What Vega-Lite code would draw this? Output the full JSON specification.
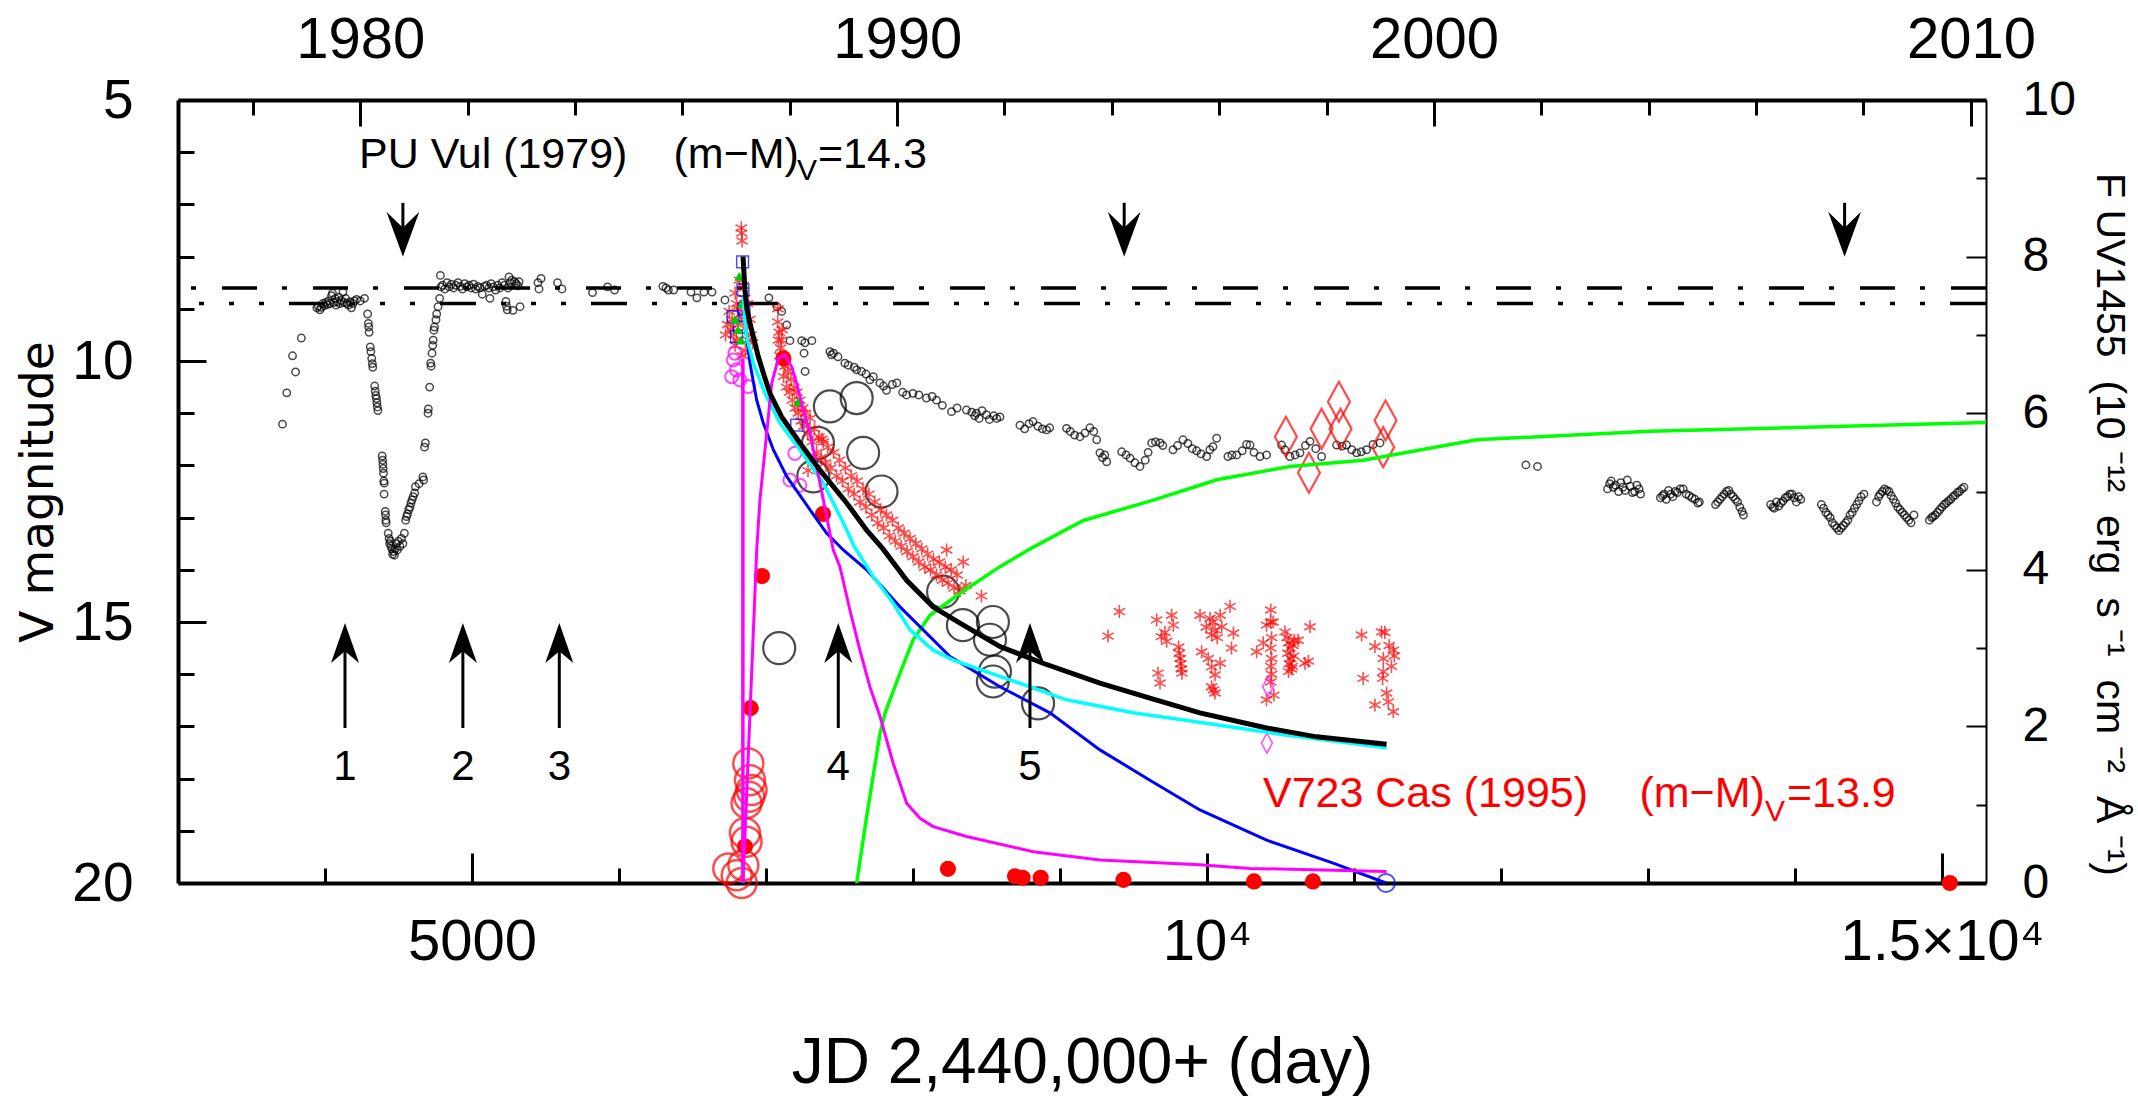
{
"$schema": "https://vega.github.io/schema/vega-lite/v6.json",
"width": 1808, "height": 783,
"autosize": "none",
"padding": {"left": 178, "top": 100, "right": 152, "bottom": 217},
"background": "white",
"config": {"view": {"stroke": null}, "axis": {"grid": false, "domainColor": "black", "tickColor": "black", "labelColor": "black", "titleColor": "black", "labelFont": "Liberation Sans", "titleFont": "Liberation Sans", "titleFontWeight": "normal", "labelFlush": false, "labelOverlap": false, "labelLimit": 0}},
"datasets": {
"puvul": [
{"jd":3711,"v":11.21},{"jd":3740,"v":10.61},{"jd":3779,"v":9.9},{"jd":3800,"v":10.21},{"jd":3839,"v":9.56},
{"jd":3945,"v":8.98},{"jd":3955,"v":8.95},{"jd":3965,"v":9.02},{"jd":3975,"v":8.97},{"jd":3985,"v":8.9},{"jd":3995,"v":8.94},{"jd":4005,"v":8.88},{"jd":4015,"v":8.92},{"jd":4025,"v":8.85},{"jd":4035,"v":8.9},{"jd":4045,"v":8.75},{"jd":4051,"v":8.7},{"jd":4060,"v":8.88},{"jd":4070,"v":8.8},{"jd":4075,"v":8.93},{"jd":4085,"v":8.86},{"jd":4095,"v":8.78},{"jd":4100,"v":8.9},{"jd":4110,"v":8.84},{"jd":4122,"v":8.68},{"jd":4130,"v":8.88},{"jd":4140,"v":8.8},{"jd":4150,"v":8.9},{"jd":4160,"v":8.93},{"jd":4170,"v":8.87},{"jd":4180,"v":8.98},{"jd":4190,"v":8.9},{"jd":4200,"v":8.85},{"jd":4215,"v":8.82},{"jd":4240,"v":8.85},{"jd":4269,"v":8.8},
{"jd":4290,"v":9.1},{"jd":4295,"v":9.28},{"jd":4298,"v":9.35},{"jd":4300,"v":9.45},{"jd":4308,"v":9.73},{"jd":4312,"v":9.82},{"jd":4318,"v":9.95},{"jd":4322,"v":10.05},{"jd":4325,"v":10.12},{"jd":4338,"v":10.48},{"jd":4342,"v":10.58},{"jd":4346,"v":10.66},{"jd":4350,"v":10.72},{"jd":4353,"v":10.8},{"jd":4356,"v":10.88},{"jd":4360,"v":10.95},{"jd":4389,"v":11.82},{"jd":4392,"v":11.9},{"jd":4394,"v":11.98},{"jd":4396,"v":12.06},{"jd":4398,"v":12.15},{"jd":4400,"v":12.3},{"jd":4403,"v":12.34},{"jd":4402,"v":12.55},{"jd":4410,"v":12.88},{"jd":4412,"v":12.95},{"jd":4414,"v":13.05},{"jd":4416,"v":13.1},
{"jd":4430,"v":13.3},{"jd":4436,"v":13.4},{"jd":4440,"v":13.5},{"jd":4445,"v":13.45},{"jd":4450,"v":13.55},{"jd":4455,"v":13.6},{"jd":4460,"v":13.7},{"jd":4466,"v":13.65},{"jd":4472,"v":13.72},{"jd":4478,"v":13.6},{"jd":4485,"v":13.5},{"jd":4492,"v":13.62},{"jd":4500,"v":13.45},{"jd":4510,"v":13.55},{"jd":4520,"v":13.4},{"jd":4530,"v":13.5},{"jd":4540,"v":13.3},
{"jd":4549,"v":13.05},{"jd":4555,"v":12.98},{"jd":4561,"v":12.93},{"jd":4570,"v":12.85},{"jd":4578,"v":12.8},{"jd":4585,"v":12.72},{"jd":4592,"v":12.66},{"jd":4600,"v":12.6},{"jd":4610,"v":12.53},{"jd":4615,"v":12.41},{"jd":4640,"v":12.35},{"jd":4666,"v":12.22},{"jd":4671,"v":12.28},{"jd":4677,"v":11.65},{"jd":4683,"v":11.57},{"jd":4701,"v":11.0},{"jd":4703,"v":10.92},{"jd":4712,"v":10.5},{"jd":4719,"v":10.04},{"jd":4722,"v":10.1},{"jd":4728,"v":9.85},{"jd":4733,"v":9.7},{"jd":4736,"v":9.6},{"jd":4741,"v":9.41},{"jd":4745,"v":9.35},{"jd":4755,"v":9.21},{"jd":4760,"v":9.1},{"jd":4769,"v":8.96},{"jd":4780,"v":8.8},{"jd":4785,"v":8.36},{"jd":4789,"v":8.58},
{"jd":4800,"v":8.55},{"jd":4815,"v":8.62},{"jd":4830,"v":8.5},{"jd":4845,"v":8.58},{"jd":4860,"v":8.53},{"jd":4875,"v":8.6},{"jd":4890,"v":8.55},{"jd":4905,"v":8.5},{"jd":4920,"v":8.57},{"jd":4935,"v":8.62},{"jd":4950,"v":8.52},{"jd":4965,"v":8.58},{"jd":4980,"v":8.55},{"jd":4995,"v":8.6},{"jd":5010,"v":8.53},{"jd":5025,"v":8.62},{"jd":5040,"v":8.57},{"jd":5055,"v":8.6},{"jd":5070,"v":8.72},{"jd":5085,"v":8.57},{"jd":5100,"v":8.55},{"jd":5115,"v":8.6},{"jd":5122,"v":8.8},{"jd":5130,"v":8.52},{"jd":5145,"v":8.58},{"jd":5160,"v":8.64},{"jd":5175,"v":8.55},{"jd":5190,"v":8.6},{"jd":5205,"v":8.5},{"jd":5220,"v":8.55},{"jd":5231,"v":8.86},{"jd":5235,"v":8.95},{"jd":5240,"v":9.02},{"jd":5245,"v":8.6},{"jd":5252,"v":8.39},{"jd":5260,"v":8.5},{"jd":5270,"v":8.45},{"jd":5279,"v":9.03},{"jd":5290,"v":8.48},{"jd":5300,"v":8.52},{"jd":5313,"v":8.56},{"jd":5320,"v":8.48},{"jd":5327,"v":8.96},
{"jd":5449,"v":8.5},{"jd":5456,"v":8.62},{"jd":5470,"v":8.42},{"jd":5582,"v":8.5},{"jd":5612,"v":8.62},{"jd":5820,"v":8.69},{"jd":5922,"v":8.58},{"jd":5970,"v":8.64},{"jd":6299,"v":8.57},{"jd":6320,"v":8.6},{"jd":6336,"v":8.64},{"jd":6372,"v":8.64},{"jd":6490,"v":8.68},{"jd":6530,"v":8.79},{"jd":6578,"v":8.68},{"jd":6633,"v":8.68},{"jd":6721,"v":8.83},
{"jd":7020,"v":8.79},{"jd":7075,"v":8.96},{"jd":7107,"v":9.05},{"jd":7141,"v":9.31},{"jd":7163,"v":9.61},{"jd":7243,"v":9.61},{"jd":7265,"v":9.65},{"jd":7312,"v":9.61},{"jd":7259,"v":9.85},{"jd":7266,"v":10.2},
{"jd":7435,"v":9.82},{"jd":7446,"v":9.88},{"jd":7460,"v":9.85},{"jd":7490,"v":9.92},{"jd":7537,"v":10.04},{"jd":7560,"v":10.08},{"jd":7600,"v":10.12},{"jd":7617,"v":10.17},{"jd":7650,"v":10.2},{"jd":7680,"v":10.25},{"jd":7707,"v":10.36},{"jd":7730,"v":10.3},{"jd":7775,"v":10.42},{"jd":7800,"v":10.48},{"jd":7820,"v":10.56},{"jd":7860,"v":10.45},{"jd":7890,"v":10.42},{"jd":7930,"v":10.6},{"jd":7956,"v":10.65},{"jd":8000,"v":10.62},{"jd":8040,"v":10.65},{"jd":8092,"v":10.71},{"jd":8130,"v":10.68},{"jd":8160,"v":10.75},{"jd":8200,"v":10.85},{"jd":8262,"v":10.97},{"jd":8300,"v":10.9},{"jd":8364,"v":10.94},{"jd":8400,"v":10.98},{"jd":8420,"v":11.05},{"jd":8432,"v":11.0},{"jd":8450,"v":11.1},{"jd":8470,"v":10.95},{"jd":8500,"v":11.03},{"jd":8520,"v":11.12},{"jd":8550,"v":11.05},{"jd":8570,"v":11.1},{"jd":8592,"v":11.07},
{"jd":8728,"v":11.23},{"jd":8760,"v":11.3},{"jd":8790,"v":11.2},{"jd":8817,"v":11.16},{"jd":8850,"v":11.25},{"jd":8880,"v":11.3},{"jd":8909,"v":11.32},{"jd":8930,"v":11.28},
{"jd":9045,"v":11.29},{"jd":9070,"v":11.35},{"jd":9100,"v":11.42},{"jd":9136,"v":11.45},{"jd":9170,"v":11.38},{"jd":9204,"v":11.28},{"jd":9230,"v":11.35},{"jd":9250,"v":11.51},
{"jd":9272,"v":11.76},{"jd":9290,"v":11.85},{"jd":9305,"v":11.8},{"jd":9318,"v":11.93},
{"jd":9420,"v":11.74},{"jd":9450,"v":11.8},{"jd":9477,"v":11.86},{"jd":9510,"v":11.95},{"jd":9544,"v":12.02},{"jd":9580,"v":11.9},{"jd":9600,"v":11.75},{"jd":9624,"v":11.57},{"jd":9650,"v":11.55},{"jd":9681,"v":11.57},{"jd":9700,"v":11.62},
{"jd":9769,"v":11.7},{"jd":9800,"v":11.62},{"jd":9837,"v":11.51},{"jd":9870,"v":11.58},{"jd":9900,"v":11.68},{"jd":9930,"v":11.72},{"jd":9960,"v":11.78},{"jd":9998,"v":11.83},{"jd":10020,"v":11.7},{"jd":10041,"v":11.64},{"jd":10066,"v":11.48},
{"jd":10143,"v":11.83},{"jd":10170,"v":11.8},{"jd":10202,"v":11.8},{"jd":10240,"v":11.72},{"jd":10270,"v":11.6},{"jd":10293,"v":11.61},{"jd":10320,"v":11.75},{"jd":10361,"v":11.83},{"jd":10406,"v":11.8},
{"jd":10508,"v":11.61},{"jd":10530,"v":11.7},{"jd":10565,"v":11.83},{"jd":10600,"v":11.8},{"jd":10633,"v":11.76},{"jd":10670,"v":11.62},{"jd":10701,"v":11.54},{"jd":10740,"v":11.68},{"jd":10780,"v":11.83},
{"jd":10882,"v":11.61},{"jd":10920,"v":11.63},{"jd":10950,"v":11.61},{"jd":10985,"v":11.7},{"jd":11018,"v":11.76},{"jd":11050,"v":11.74},{"jd":11086,"v":11.7},{"jd":11130,"v":11.6},{"jd":11177,"v":11.57},
{"jd":12170,"v":11.99},{"jd":12249,"v":12.02},
{"jd":12725,"v":12.45},{"jd":12740,"v":12.35},{"jd":12750,"v":12.3},{"jd":12765,"v":12.42},{"jd":12780,"v":12.38},{"jd":12800,"v":12.5},{"jd":12815,"v":12.33},{"jd":12830,"v":12.42},{"jd":12845,"v":12.48},{"jd":12860,"v":12.28},{"jd":12880,"v":12.4},{"jd":12895,"v":12.52},{"jd":12910,"v":12.5},{"jd":12925,"v":12.38},{"jd":12940,"v":12.45},{"jd":12950,"v":12.55},
{"jd":13085,"v":12.62},{"jd":13100,"v":12.58},{"jd":13110,"v":12.55},{"jd":13125,"v":12.65},{"jd":13140,"v":12.48},{"jd":13155,"v":12.55},{"jd":13170,"v":12.6},{"jd":13185,"v":12.5},{"jd":13200,"v":12.52},{"jd":13220,"v":12.45},{"jd":13240,"v":12.45},{"jd":13260,"v":12.55},{"jd":13280,"v":12.58},{"jd":13300,"v":12.62},{"jd":13320,"v":12.65},{"jd":13340,"v":12.72},{"jd":13350,"v":12.7},
{"jd":13460,"v":12.75},{"jd":13475,"v":12.7},{"jd":13490,"v":12.65},{"jd":13505,"v":12.6},{"jd":13520,"v":12.55},{"jd":13535,"v":12.5},{"jd":13550,"v":12.48},{"jd":13565,"v":12.55},{"jd":13580,"v":12.6},{"jd":13595,"v":12.65},{"jd":13610,"v":12.7},{"jd":13625,"v":12.8},{"jd":13640,"v":12.88},{"jd":13650,"v":12.95},
{"jd":13835,"v":12.75},{"jd":13850,"v":12.8},{"jd":13860,"v":12.82},{"jd":13875,"v":12.7},{"jd":13890,"v":12.78},{"jd":13905,"v":12.72},{"jd":13920,"v":12.68},{"jd":13935,"v":12.62},{"jd":13950,"v":12.6},{"jd":13965,"v":12.55},{"jd":13980,"v":12.55},{"jd":13995,"v":12.62},{"jd":14010,"v":12.7},{"jd":14025,"v":12.6},{"jd":14040,"v":12.65},
{"jd":14180,"v":12.75},{"jd":14195,"v":12.82},{"jd":14210,"v":12.9},{"jd":14225,"v":12.95},{"jd":14240,"v":13.0},{"jd":14255,"v":13.1},{"jd":14270,"v":13.15},{"jd":14285,"v":13.2},{"jd":14300,"v":13.25},{"jd":14315,"v":13.2},{"jd":14330,"v":13.15},{"jd":14345,"v":13.1},{"jd":14360,"v":13.05},{"jd":14375,"v":12.95},{"jd":14390,"v":12.9},{"jd":14405,"v":12.82},{"jd":14420,"v":12.75},{"jd":14435,"v":12.68},{"jd":14450,"v":12.6},{"jd":14470,"v":12.55},
{"jd":14555,"v":12.7},{"jd":14570,"v":12.6},{"jd":14580,"v":12.55},{"jd":14595,"v":12.5},{"jd":14610,"v":12.45},{"jd":14625,"v":12.48},{"jd":14640,"v":12.5},{"jd":14655,"v":12.58},{"jd":14670,"v":12.65},{"jd":14685,"v":12.72},{"jd":14700,"v":12.8},{"jd":14715,"v":12.85},{"jd":14730,"v":12.9},{"jd":14745,"v":12.95},{"jd":14760,"v":13.0},{"jd":14775,"v":13.05},{"jd":14790,"v":13.1},{"jd":14810,"v":12.95},
{"jd":14915,"v":13.05},{"jd":14930,"v":13.0},{"jd":14940,"v":12.98},{"jd":14955,"v":12.95},{"jd":14970,"v":12.9},{"jd":14985,"v":12.85},{"jd":15000,"v":12.8},{"jd":15015,"v":12.75},{"jd":15030,"v":12.72},{"jd":15045,"v":12.68},{"jd":15060,"v":12.65},{"jd":15075,"v":12.6},{"jd":15090,"v":12.57},{"jd":15105,"v":12.52},{"jd":15120,"v":12.5},{"jd":15135,"v":12.45},{"jd":15150,"v":12.42}
],
"stars": [
{"jd":6835,"v":7.55},{"jd":6838,"v":7.7},{"jd":6832,"v":7.45},{"jd":6820,"v":8.45},{"jd":6845,"v":8.55},{"jd":6790,"v":8.7},{"jd":6800,"v":8.9},{"jd":6810,"v":9.0},{"jd":6770,"v":9.2},{"jd":6760,"v":9.4},{"jd":6780,"v":9.5},{"jd":6790,"v":9.7},{"jd":6810,"v":9.3},{"jd":6830,"v":9.1},{"jd":6850,"v":9.2},{"jd":6870,"v":9.35},{"jd":6880,"v":9.6},{"jd":6900,"v":9.5},{"jd":6860,"v":9.8},{"jd":6840,"v":9.9},{"jd":6750,"v":9.05},{"jd":6740,"v":9.3},{"jd":6725,"v":9.5},{"jd":6800,"v":9.6},{"jd":6890,"v":9.2},{"jd":6910,"v":9.65},{"jd":6875,"v":8.9},{"jd":6855,"v":8.8},
{"jd":7082,"v":9.0},{"jd":7080,"v":9.25},{"jd":7090,"v":9.45},{"jd":7085,"v":9.6},{"jd":7100,"v":9.75},{"jd":7095,"v":9.9},{"jd":7110,"v":9.4},{"jd":7105,"v":9.6},
{"jd":7110,"v":10.0},{"jd":7120,"v":10.3},{"jd":7130,"v":10.1},{"jd":7140,"v":10.5},{"jd":7150,"v":10.2},{"jd":7160,"v":10.6},{"jd":7170,"v":10.35},{"jd":7180,"v":10.75},{"jd":7190,"v":10.5},{"jd":7200,"v":10.9},{"jd":7210,"v":10.6},{"jd":7220,"v":11.0},{"jd":7230,"v":10.75},{"jd":7240,"v":11.15},{"jd":7250,"v":10.9},{"jd":7260,"v":11.25},{"jd":7270,"v":11.0},{"jd":7285,"v":11.4},{"jd":7300,"v":11.1},{"jd":7315,"v":11.55},{"jd":7330,"v":11.3},{"jd":7345,"v":11.75},{"jd":7360,"v":11.45},{"jd":7375,"v":11.85},{"jd":7390,"v":11.55},{"jd":7405,"v":11.95},{"jd":7420,"v":11.65},{"jd":7440,"v":12.05},{"jd":7460,"v":11.75},{"jd":7480,"v":12.2},{"jd":7500,"v":11.9},{"jd":7520,"v":12.3},{"jd":7540,"v":12.05},{"jd":7560,"v":12.45},{"jd":7580,"v":12.2},{"jd":7600,"v":12.55},{"jd":7620,"v":12.3},{"jd":7640,"v":12.7},{"jd":7660,"v":12.45},{"jd":7680,"v":12.8},{"jd":7700,"v":12.55},{"jd":7720,"v":12.95},{"jd":7740,"v":12.7},{"jd":7760,"v":13.1},{"jd":7780,"v":12.85},{"jd":7800,"v":13.2},{"jd":7820,"v":12.95},{"jd":7840,"v":13.35},{"jd":7860,"v":13.05},{"jd":7880,"v":13.45},{"jd":7900,"v":13.2},{"jd":7920,"v":13.55},{"jd":7940,"v":13.3},{"jd":7960,"v":13.65},{"jd":7980,"v":13.4},{"jd":8000,"v":13.75},{"jd":8020,"v":13.5},{"jd":8040,"v":13.85},{"jd":8060,"v":13.6},{"jd":8080,"v":13.95},{"jd":8100,"v":13.7},{"jd":8120,"v":14.0},{"jd":8140,"v":13.8},{"jd":8160,"v":14.1},{"jd":8180,"v":13.85},{"jd":8200,"v":14.2},{"jd":8220,"v":13.95},{"jd":8240,"v":14.25},{"jd":8260,"v":14.0},{"jd":8280,"v":14.35},{"jd":8300,"v":14.1},{"jd":8320,"v":14.4},{"jd":8342,"v":13.85},{"jd":8360,"v":14.3},{"jd":8466,"v":14.5},{"jd":8229,"v":13.62},{"jd":7286,"v":12.1},{"jd":7379,"v":11.5},
{"jd":9327,"v":15.27},{"jd":9404,"v":14.8},{"jd":9658,"v":14.96},{"jd":9690,"v":15.28},{"jd":9714,"v":15.2},{"jd":9726,"v":15.37},{"jd":9760,"v":14.87},{"jd":9771,"v":15.06},{"jd":9807,"v":15.48},{"jd":9812,"v":15.6},{"jd":9818,"v":15.7},{"jd":9822,"v":15.8},{"jd":9826,"v":15.9},{"jd":9830,"v":15.98},{"jd":9667,"v":15.98},{"jd":9681,"v":16.17},{"jd":9953,"v":14.87},{"jd":10021,"v":14.93},{"jd":10090,"v":14.87},{"jd":10157,"v":14.7},{"jd":10055,"v":15.15},{"jd":10101,"v":15.09},{"jd":10180,"v":15.21},{"jd":9995,"v":15.1},{"jd":10032,"v":15.25},{"jd":9964,"v":15.57},{"jd":10009,"v":15.7},{"jd":10090,"v":15.79},{"jd":10032,"v":15.86},{"jd":10055,"v":16.01},{"jd":10032,"v":16.24},{"jd":10055,"v":16.36},{"jd":10045,"v":16.3},{"jd":10167,"v":15.5},{"jd":10040,"v":15.0},{"jd":10070,"v":15.3},
{"jd":10434,"v":14.77},{"jd":10434,"v":15.0},{"jd":10440,"v":15.3},{"jd":10434,"v":15.5},{"jd":10440,"v":15.7},{"jd":10434,"v":15.85},{"jd":10440,"v":16.0},{"jd":10434,"v":16.15},{"jd":10405,"v":15.06},{"jd":10450,"v":15.0},{"jd":10383,"v":15.4},{"jd":10338,"v":15.57},{"jd":10405,"v":16.49},{"jd":10455,"v":16.4},{"jd":10531,"v":15.19},{"jd":10545,"v":15.3},{"jd":10555,"v":15.4},{"jd":10565,"v":15.5},{"jd":10550,"v":15.6},{"jd":10570,"v":15.7},{"jd":10560,"v":15.8},{"jd":10575,"v":15.9},{"jd":10555,"v":15.95},{"jd":10585,"v":15.45},{"jd":10590,"v":15.65},{"jd":10580,"v":15.85},{"jd":10595,"v":15.35},{"jd":10620,"v":15.35},{"jd":10701,"v":15.09},{"jd":10667,"v":15.79},{"jd":10690,"v":15.75},
{"jd":11052,"v":15.25},{"jd":11063,"v":16.08},{"jd":11143,"v":15.47},{"jd":11188,"v":15.19},{"jd":11210,"v":15.2},{"jd":11200,"v":15.7},{"jd":11268,"v":15.54},{"jd":11275,"v":15.65},{"jd":11200,"v":15.95},{"jd":11195,"v":16.08},{"jd":11222,"v":16.36},{"jd":11234,"v":16.53},{"jd":11143,"v":16.59},{"jd":11268,"v":16.72},{"jd":11240,"v":15.45},{"jd":11255,"v":15.85}
],
"reddots": [{"jd":7119,"v":9.95},{"jd":7388,"v":12.93},{"jd":6973,"v":14.12},{"jd":6896,"v":16.65},{"jd":6857,"v":19.3},{"jd":8238,"v":19.73},{"jd":8694,"v":19.87},{"jd":8746,"v":19.9},{"jd":8869,"v":19.9},{"jd":9432,"v":19.94},{"jd":10320,"v":19.97},{"jd":10721,"v":19.97},{"jd":15054,"v":20.0}],
"redrings": [{"jd":6880,"v":17.71},{"jd":6891,"v":18.03},{"jd":6902,"v":18.22},{"jd":6886,"v":18.35},{"jd":6868,"v":18.47},{"jd":6857,"v":19.04},{"jd":6868,"v":19.21},{"jd":6846,"v":19.66},{"jd":6744,"v":19.72},{"jd":6835,"v":20.0},{"jd":6801,"v":19.85}],
"bigrings": [{"jd":7435,"v":10.87},{"jd":7617,"v":10.71},{"jd":7354,"v":11.57},{"jd":7661,"v":11.76},{"jd":7322,"v":12.21},{"jd":7786,"v":12.5},{"jd":7090,"v":15.5},{"jd":8205,"v":14.42},{"jd":8340,"v":15.06},{"jd":8544,"v":15.0},{"jd":8524,"v":15.34},{"jd":8558,"v":15.95},{"jd":8544,"v":16.14},{"jd":8851,"v":16.56}],
"reddiam": [{"jd":10537,"v":11.45},{"jd":10694,"v":12.14},{"jd":10780,"v":11.3},{"jd":10898,"v":10.78},{"jd":10909,"v":11.3},{"jd":11215,"v":11.14},{"jd":11199,"v":11.65}],
"magdiam": [{"jd":10416,"v":16.24},{"jd":10408,"v":17.32}],
"magrings": [{"jd":6778,"v":9.98},{"jd":6800,"v":10.17},{"jd":6767,"v":10.3},{"jd":6823,"v":10.36},{"jd":6880,"v":10.49},{"jd":6789,"v":9.85},{"jd":7197,"v":11.77},{"jd":7163,"v":12.28},{"jd":7231,"v":12.38}],
"bluesq": [{"jd":6841,"v":8.1},{"jd":6843,"v":8.64},{"jd":6776,"v":9.15},{"jd":6800,"v":9.53},{"jd":6820,"v":9.35},{"jd":6850,"v":9.0},{"jd":7209,"v":11.23}],
"greentri": [{"jd":6818,"v":8.38},{"jd":6840,"v":8.9},{"jd":6790,"v":9.2},{"jd":6810,"v":9.4},{"jd":6830,"v":9.6},{"jd":7218,"v":10.78}],
"black": [{"jd":6844,"v":8.0},{"jd":6850,"v":8.3},{"jd":6857,"v":8.64},{"jd":6870,"v":9.0},{"jd":6891,"v":9.28},{"jd":6920,"v":9.6},{"jd":6948,"v":9.92},{"jd":6990,"v":10.3},{"jd":7027,"v":10.62},{"jd":7107,"v":11.07},{"jd":7231,"v":11.57},{"jd":7367,"v":12.09},{"jd":7549,"v":12.72},{"jd":7685,"v":13.24},{"jd":7796,"v":13.6},{"jd":7957,"v":14.2},{"jd":8136,"v":14.71},{"jd":8320,"v":15.02},{"jd":8592,"v":15.47},{"jd":8885,"v":15.79},{"jd":9272,"v":16.17},{"jd":9612,"v":16.46},{"jd":9952,"v":16.74},{"jd":10406,"v":17.03},{"jd":10746,"v":17.2},{"jd":11222,"v":17.34}],
"cyan": [{"jd":6846,"v":8.77},{"jd":6855,"v":9.2},{"jd":6868,"v":9.53},{"jd":6914,"v":10.04},{"jd":6993,"v":10.62},{"jd":7095,"v":11.19},{"jd":7231,"v":11.7},{"jd":7390,"v":12.34},{"jd":7526,"v":13.1},{"jd":7600,"v":13.55},{"jd":7730,"v":14.13},{"jd":7866,"v":14.64},{"jd":7980,"v":15.15},{"jd":8138,"v":15.54},{"jd":8274,"v":15.73},{"jd":8592,"v":16.04},{"jd":9045,"v":16.49},{"jd":9499,"v":16.74},{"jd":10066,"v":16.97},{"jd":10519,"v":17.16},{"jd":11222,"v":17.41}],
"blue": [{"jd":6846,"v":9.02},{"jd":6868,"v":9.53},{"jd":6891,"v":10.04},{"jd":6937,"v":10.75},{"jd":6982,"v":11.19},{"jd":7050,"v":11.7},{"jd":7141,"v":12.21},{"jd":7300,"v":12.85},{"jd":7413,"v":13.3},{"jd":7526,"v":13.62},{"jd":7685,"v":14.0},{"jd":7912,"v":14.71},{"jd":8252,"v":15.66},{"jd":8592,"v":16.24},{"jd":8932,"v":16.74},{"jd":9272,"v":17.45},{"jd":9612,"v":18.03},{"jd":9952,"v":18.6},{"jd":10406,"v":19.18},{"jd":10859,"v":19.62},{"jd":11218,"v":20.0}],
"magenta": [{"jd":6844,"v":20.0},{"jd":6937,"v":13.62},{"jd":6959,"v":12.66},{"jd":7005,"v":11.38},{"jd":7039,"v":10.43},{"jd":7084,"v":9.95},{"jd":7129,"v":9.89},{"jd":7175,"v":10.11},{"jd":7209,"v":10.43},{"jd":7254,"v":10.94},{"jd":7300,"v":11.38},{"jd":7345,"v":12.02},{"jd":7390,"v":12.66},{"jd":7458,"v":13.62},{"jd":7503,"v":13.94},{"jd":7571,"v":14.77},{"jd":7639,"v":15.54},{"jd":7707,"v":16.24},{"jd":7776,"v":16.81},{"jd":7866,"v":17.71},{"jd":7957,"v":18.47},{"jd":8048,"v":18.76},{"jd":8138,"v":18.92},{"jd":8365,"v":19.11},{"jd":8819,"v":19.4},{"jd":9272,"v":19.56},{"jd":9952,"v":19.65},{"jd":10293,"v":19.72},{"jd":11222,"v":19.78}],
"magvert": [{"jd":6843,"v":20.0},{"jd":6843,"v":9.95}],
"uv": [{"jd":7617,"f":0},{"jd":7685,"f":0.85},{"jd":7776,"f":1.91},{"jd":7810,"f":2.17},{"jd":7912,"f":2.68},{"jd":8002,"f":3.11},{"jd":8116,"f":3.42},{"jd":8320,"f":3.7},{"jd":8592,"f":4.04},{"jd":8819,"f":4.29},{"jd":9159,"f":4.63},{"jd":9635,"f":4.89},{"jd":9952,"f":5.08},{"jd":10066,"f":5.15},{"jd":10565,"f":5.32},{"jd":11063,"f":5.4},{"jd":11835,"f":5.66},{"jd":13014,"f":5.77},{"jd":15300,"f":5.88}],
"upArrows": [{"jd":4136,"lab":"1","vb":17.03,"vt":15.55,"vh":15.4,"vl":18.03},{"jd":4938,"lab":"2","vb":17.03,"vt":15.55,"vh":15.4,"vl":18.03},{"jd":5594,"lab":"3","vb":17.03,"vt":15.55,"vh":15.4,"vl":18.03},{"jd":7492,"lab":"4","vb":17.03,"vt":15.55,"vh":15.4,"vl":18.03},{"jd":8796,"lab":"5","vb":17.03,"vt":15.55,"vh":15.4,"vl":18.03}],
"downArrows": [{"jd":4530,"vb":6.97,"vt":7.45,"vh":7.57},{"jd":9437,"vb":6.97,"vt":7.45,"vh":7.57},{"jd":14338,"vb":6.97,"vt":7.45,"vh":7.57}],
"blackText": [{"jd":4231,"v":6.3,"t":"PU Vul (1979)"},{"jd":6371,"v":6.3,"t":"(m−M)"},{"jd":7354,"v":6.3,"t":"=14.3"}],
"blackSub": [{"jd":7211,"v":6.53,"t":"V"}],
"redText": [{"jd":10381,"v":18.54,"t":"V723 Cas (1995)"},{"jd":12942,"v":18.54,"t":"(m−M)"},{"jd":13946,"v":18.54,"t":"=13.9"}],
"redSub": [{"jd":13796,"v":18.82,"t":"V"}]
},
"layer": [
{"data": {"values": [{"v": 8.6}]}, "mark": {"type": "rule", "color": "black", "strokeWidth": 3.5, "strokeDash": [35, 26, 5, 25]}, "encoding": {"y": {"field": "v", "type": "quantitative", "scale": {"domain": [5, 20], "reverse": true, "nice": false, "zero": false}, "axis": null}}},
{"data": {"values": [{"v": 8.9}]}, "mark": {"type": "rule", "color": "black", "strokeWidth": 3.5, "strokeDash": [36, 25, 5, 25, 5, 25, 5, 25]}, "encoding": {"y": {"field": "v", "type": "quantitative", "scale": {"domain": [5, 20], "reverse": true, "nice": false, "zero": false}, "axis": null}}},
{"data": {"name": "puvul"}, "mark": {"type": "point", "shape": "circle", "filled": false, "color": "black", "strokeWidth": 1.5, "size": 55}, "encoding": {"x": {"field": "jd", "type": "quantitative", "scale": {"domain": [3000, 15300], "nice": false, "zero": false}, "axis": null}, "y": {"field": "v", "type": "quantitative", "scale": {"domain": [5, 20], "reverse": true, "nice": false, "zero": false}, "axis": null}}},
{"data": {"name": "bigrings"}, "mark": {"type": "point", "shape": "circle", "filled": false, "color": "black", "strokeWidth": 2.2, "size": 1024}, "encoding": {"x": {"field": "jd", "type": "quantitative", "scale": {"domain": [3000, 15300], "nice": false, "zero": false}, "axis": null}, "y": {"field": "v", "type": "quantitative", "scale": {"domain": [5, 20], "reverse": true, "nice": false, "zero": false}, "axis": null}}},
{"data": {"name": "stars"}, "mark": {"type": "point", "shape": "M0,-1L0,1M-0.87,-0.5L0.87,0.5M-0.87,0.5L0.87,-0.5", "filled": false, "color": "#ff0000", "strokeWidth": 1.6, "size": 170}, "encoding": {"x": {"field": "jd", "type": "quantitative", "scale": {"domain": [3000, 15300], "nice": false, "zero": false}, "axis": null}, "y": {"field": "v", "type": "quantitative", "scale": {"domain": [5, 20], "reverse": true, "nice": false, "zero": false}, "axis": null}}},
{"data": {"name": "redrings"}, "mark": {"type": "point", "shape": "circle", "filled": false, "color": "#ff0000", "strokeWidth": 2.5, "size": 900}, "encoding": {"x": {"field": "jd", "type": "quantitative", "scale": {"domain": [3000, 15300], "nice": false, "zero": false}, "axis": null}, "y": {"field": "v", "type": "quantitative", "scale": {"domain": [5, 20], "reverse": true, "nice": false, "zero": false}, "axis": null}}},
{"data": {"name": "reddots"}, "mark": {"type": "point", "shape": "circle", "filled": true, "color": "#ff0000", "opacity": 1, "size": 260}, "encoding": {"x": {"field": "jd", "type": "quantitative", "scale": {"domain": [3000, 15300], "nice": false, "zero": false}, "axis": null}, "y": {"field": "v", "type": "quantitative", "scale": {"domain": [5, 20], "reverse": true, "nice": false, "zero": false}, "axis": null}}},
{"data": {"name": "reddiam"}, "mark": {"type": "point", "shape": "M0,-1L0.55,0L0,1L-0.55,0Z", "filled": false, "color": "#ff0000", "strokeWidth": 2.2, "size": 1600}, "encoding": {"x": {"field": "jd", "type": "quantitative", "scale": {"domain": [3000, 15300], "nice": false, "zero": false}, "axis": null}, "y": {"field": "v", "type": "quantitative", "scale": {"domain": [5, 20], "reverse": true, "nice": false, "zero": false}, "axis": null}}},
{"data": {"name": "magdiam"}, "mark": {"type": "point", "shape": "M0,-1L0.55,0L0,1L-0.55,0Z", "filled": false, "color": "#ff00ff", "strokeWidth": 1.5, "size": 400}, "encoding": {"x": {"field": "jd", "type": "quantitative", "scale": {"domain": [3000, 15300], "nice": false, "zero": false}, "axis": null}, "y": {"field": "v", "type": "quantitative", "scale": {"domain": [5, 20], "reverse": true, "nice": false, "zero": false}, "axis": null}}},
{"data": {"name": "magrings"}, "mark": {"type": "point", "shape": "circle", "filled": false, "color": "#ff00ff", "strokeWidth": 2, "size": 170}, "encoding": {"x": {"field": "jd", "type": "quantitative", "scale": {"domain": [3000, 15300], "nice": false, "zero": false}, "axis": null}, "y": {"field": "v", "type": "quantitative", "scale": {"domain": [5, 20], "reverse": true, "nice": false, "zero": false}, "axis": null}}},
{"data": {"name": "bluesq"}, "mark": {"type": "point", "shape": "square", "filled": false, "color": "#0000ff", "strokeWidth": 1.5, "size": 140}, "encoding": {"x": {"field": "jd", "type": "quantitative", "scale": {"domain": [3000, 15300], "nice": false, "zero": false}, "axis": null}, "y": {"field": "v", "type": "quantitative", "scale": {"domain": [5, 20], "reverse": true, "nice": false, "zero": false}, "axis": null}}},
{"data": {"name": "greentri"}, "mark": {"type": "point", "shape": "triangle-up", "filled": true, "color": "#00cc00", "opacity": 1, "size": 100}, "encoding": {"x": {"field": "jd", "type": "quantitative", "scale": {"domain": [3000, 15300], "nice": false, "zero": false}, "axis": null}, "y": {"field": "v", "type": "quantitative", "scale": {"domain": [5, 20], "reverse": true, "nice": false, "zero": false}, "axis": null}}},
{"data": {"name": "uv"}, "mark": {"type": "line", "color": "#00ff00", "strokeWidth": 3.5}, "encoding": {"x": {"field": "jd", "type": "quantitative", "scale": {"domain": [3000, 15300], "nice": false, "zero": false}, "axis": null}, "y": {"field": "f", "type": "quantitative", "scale": {"domain": [0, 10], "nice": false, "zero": false}, "axis": null}}},
{"data": {"name": "blue"}, "mark": {"type": "line", "color": "#0000ff", "strokeWidth": 3}, "encoding": {"x": {"field": "jd", "type": "quantitative", "scale": {"domain": [3000, 15300], "nice": false, "zero": false}, "axis": null}, "y": {"field": "v", "type": "quantitative", "scale": {"domain": [5, 20], "reverse": true, "nice": false, "zero": false}, "axis": null}}},
{"data": {"name": "cyan"}, "mark": {"type": "line", "color": "#00ffff", "strokeWidth": 3.5}, "encoding": {"x": {"field": "jd", "type": "quantitative", "scale": {"domain": [3000, 15300], "nice": false, "zero": false}, "axis": null}, "y": {"field": "v", "type": "quantitative", "scale": {"domain": [5, 20], "reverse": true, "nice": false, "zero": false}, "axis": null}}},
{"data": {"name": "magenta"}, "mark": {"type": "line", "color": "#ff00ff", "strokeWidth": 3}, "encoding": {"x": {"field": "jd", "type": "quantitative", "scale": {"domain": [3000, 15300], "nice": false, "zero": false}, "axis": null}, "y": {"field": "v", "type": "quantitative", "scale": {"domain": [5, 20], "reverse": true, "nice": false, "zero": false}, "axis": null}}},
{"data": {"name": "magvert"}, "mark": {"type": "line", "color": "#ff00ff", "strokeWidth": 3.5}, "encoding": {"x": {"field": "jd", "type": "quantitative", "scale": {"domain": [3000, 15300], "nice": false, "zero": false}, "axis": null}, "y": {"field": "v", "type": "quantitative", "scale": {"domain": [5, 20], "reverse": true, "nice": false, "zero": false}, "axis": null}}},
{"data": {"name": "black"}, "mark": {"type": "line", "color": "black", "strokeWidth": 5}, "encoding": {"x": {"field": "jd", "type": "quantitative", "scale": {"domain": [3000, 15300], "nice": false, "zero": false}, "axis": null}, "y": {"field": "v", "type": "quantitative", "scale": {"domain": [5, 20], "reverse": true, "nice": false, "zero": false}, "axis": null}}},
{"data": {"values": [{"jd": 11218, "v": 20.0}]}, "mark": {"type": "point", "shape": "circle", "filled": false, "color": "#0000ff", "strokeWidth": 2, "size": 324}, "encoding": {"x": {"field": "jd", "type": "quantitative", "scale": {"domain": [3000, 15300], "nice": false, "zero": false}, "axis": null}, "y": {"field": "v", "type": "quantitative", "scale": {"domain": [5, 20], "reverse": true, "nice": false, "zero": false}, "axis": null}}},
{"data": {"name": "upArrows"}, "mark": {"type": "rule", "color": "black", "strokeWidth": 3}, "encoding": {"x": {"field": "jd", "type": "quantitative", "scale": {"domain": [3000, 15300], "nice": false, "zero": false}, "axis": null}, "y": {"field": "vb", "type": "quantitative", "scale": {"domain": [5, 20], "reverse": true, "nice": false, "zero": false}, "axis": null}, "y2": {"field": "vt"}}},
{"data": {"name": "upArrows"}, "mark": {"type": "point", "shape": "M0,-1L0.7,1L0,0.42L-0.7,1Z", "filled": true, "color": "black", "opacity": 1, "strokeWidth": 0, "size": 1600}, "encoding": {"x": {"field": "jd", "type": "quantitative", "scale": {"domain": [3000, 15300], "nice": false, "zero": false}, "axis": null}, "y": {"field": "vh", "type": "quantitative", "scale": {"domain": [5, 20], "reverse": true, "nice": false, "zero": false}, "axis": null}}},
{"data": {"name": "upArrows"}, "mark": {"type": "text", "align": "center", "baseline": "alphabetic", "font": "Liberation Sans", "fontSize": 42, "color": "black"}, "encoding": {"x": {"field": "jd", "type": "quantitative", "scale": {"domain": [3000, 15300], "nice": false, "zero": false}, "axis": null}, "y": {"field": "vl", "type": "quantitative", "scale": {"domain": [5, 20], "reverse": true, "nice": false, "zero": false}, "axis": null}, "text": {"field": "lab"}}},
{"data": {"name": "downArrows"}, "mark": {"type": "rule", "color": "black", "strokeWidth": 3}, "encoding": {"x": {"field": "jd", "type": "quantitative", "scale": {"domain": [3000, 15300], "nice": false, "zero": false}, "axis": null}, "y": {"field": "vb", "type": "quantitative", "scale": {"domain": [5, 20], "reverse": true, "nice": false, "zero": false}, "axis": null}, "y2": {"field": "vt"}}},
{"data": {"name": "downArrows"}, "mark": {"type": "point", "shape": "M0,1L0.73,-1L0,-0.28L-0.73,-1Z", "filled": true, "color": "black", "opacity": 1, "strokeWidth": 0, "size": 2025}, "encoding": {"x": {"field": "jd", "type": "quantitative", "scale": {"domain": [3000, 15300], "nice": false, "zero": false}, "axis": null}, "y": {"field": "vh", "type": "quantitative", "scale": {"domain": [5, 20], "reverse": true, "nice": false, "zero": false}, "axis": null}}},
{"data": {"name": "blackText"}, "mark": {"type": "text", "align": "left", "baseline": "alphabetic", "font": "Liberation Sans", "fontSize": 43, "color": "black"}, "encoding": {"x": {"field": "jd", "type": "quantitative", "scale": {"domain": [3000, 15300], "nice": false, "zero": false}, "axis": null}, "y": {"field": "v", "type": "quantitative", "scale": {"domain": [5, 20], "reverse": true, "nice": false, "zero": false}, "axis": null}, "text": {"field": "t"}}},
{"data": {"name": "blackSub"}, "mark": {"type": "text", "align": "left", "baseline": "alphabetic", "font": "Liberation Sans", "fontSize": 30, "color": "black"}, "encoding": {"x": {"field": "jd", "type": "quantitative", "scale": {"domain": [3000, 15300], "nice": false, "zero": false}, "axis": null}, "y": {"field": "v", "type": "quantitative", "scale": {"domain": [5, 20], "reverse": true, "nice": false, "zero": false}, "axis": null}, "text": {"field": "t"}}},
{"data": {"name": "redText"}, "mark": {"type": "text", "align": "left", "baseline": "alphabetic", "font": "Liberation Sans", "fontSize": 43, "color": "#ff0000"}, "encoding": {"x": {"field": "jd", "type": "quantitative", "scale": {"domain": [3000, 15300], "nice": false, "zero": false}, "axis": null}, "y": {"field": "v", "type": "quantitative", "scale": {"domain": [5, 20], "reverse": true, "nice": false, "zero": false}, "axis": null}, "text": {"field": "t"}}},
{"data": {"name": "redSub"}, "mark": {"type": "text", "align": "left", "baseline": "alphabetic", "font": "Liberation Sans", "fontSize": 30, "color": "#ff0000"}, "encoding": {"x": {"field": "jd", "type": "quantitative", "scale": {"domain": [3000, 15300], "nice": false, "zero": false}, "axis": null}, "y": {"field": "v", "type": "quantitative", "scale": {"domain": [5, 20], "reverse": true, "nice": false, "zero": false}, "axis": null}, "text": {"field": "t"}}},
{"data": {"values": [{"jd": 5000, "v": 10}]}, "mark": {"type": "point", "opacity": 0}, "encoding": {"x": {"field": "jd", "type": "quantitative", "scale": {"domain": [3000, 15300], "nice": false, "zero": false}, "axis": {"orient": "bottom", "values": [5000, 10000, 15000], "labelExpr": "datum.value == 5000 ? '5000' : (datum.value == 10000 ? '10⁴' : '1.5×10⁴')", "tickSize": -30, "tickWidth": 3, "domainWidth": 4, "labelFontSize": 58, "labelPadding": 60, "labelLimit": 0, "title": "JD 2,440,000+ (day)", "titleFontSize": 64, "titlePadding": 60}}, "y": {"field": "v", "type": "quantitative", "scale": {"domain": [5, 20], "reverse": true, "nice": false, "zero": false}, "axis": null}}},
{"data": {"values": [{"jd": 5000, "v": 10}]}, "mark": {"type": "point", "opacity": 0}, "encoding": {"x": {"field": "jd", "type": "quantitative", "scale": {"domain": [3000, 15300], "nice": false, "zero": false}, "axis": {"orient": "bottom", "values": [4000, 6000, 7000, 8000, 9000, 11000, 12000, 13000, 14000], "tickSize": -15, "tickWidth": 3, "domain": false, "labels": false, "title": null}}, "y": {"field": "v", "type": "quantitative", "scale": {"domain": [5, 20], "reverse": true, "nice": false, "zero": false}, "axis": null}}},
{"data": {"values": [{"jd": 5000, "v": 10}]}, "mark": {"type": "point", "opacity": 0}, "encoding": {"x": {"field": "jd", "type": "quantitative", "scale": {"domain": [3000, 15300], "nice": false, "zero": false}, "axis": {"orient": "top", "values": [4239.5, 7892.5, 11544.5, 15197.5], "labelExpr": "datum.value < 5000 ? '1980' : (datum.value < 9000 ? '1990' : (datum.value < 13000 ? '2000' : '2010'))", "tickSize": -26, "tickWidth": 3, "domainWidth": 4, "labelFontSize": 58, "labelPadding": 57, "title": null}}, "y": {"field": "v", "type": "quantitative", "scale": {"domain": [5, 20], "reverse": true, "nice": false, "zero": false}, "axis": null}}},
{"data": {"values": [{"jd": 5000, "v": 10}]}, "mark": {"type": "point", "opacity": 0}, "encoding": {"x": {"field": "jd", "type": "quantitative", "scale": {"domain": [3000, 15300], "nice": false, "zero": false}, "axis": {"orient": "top", "values": [3509.5, 4970.5, 5700.5, 6431.5, 7161.5, 8622.5, 9353.5, 10083.5, 10814.5, 12275.5, 13005.5, 13736.5, 14466.5], "tickSize": -15, "tickWidth": 3, "domain": false, "labels": false, "title": null}}, "y": {"field": "v", "type": "quantitative", "scale": {"domain": [5, 20], "reverse": true, "nice": false, "zero": false}, "axis": null}}},
{"data": {"values": [{"jd": 5000, "v": 10}]}, "mark": {"type": "point", "opacity": 0}, "encoding": {"x": {"field": "jd", "type": "quantitative", "scale": {"domain": [3000, 15300], "nice": false, "zero": false}, "axis": null}, "y": {"field": "v", "type": "quantitative", "scale": {"domain": [5, 20], "reverse": true, "nice": false, "zero": false}, "axis": {"orient": "left", "values": [5, 10, 15, 20], "tickSize": -28, "tickWidth": 3, "domainWidth": 4, "labelFontSize": 55, "labelPadding": 73, "title": "V magnitude", "titleFont": "DejaVu Sans", "titleFontSize": 47, "titlePadding": 9}}}},
{"data": {"values": [{"jd": 5000, "v": 10}]}, "mark": {"type": "point", "opacity": 0}, "encoding": {"x": {"field": "jd", "type": "quantitative", "scale": {"domain": [3000, 15300], "nice": false, "zero": false}, "axis": null}, "y": {"field": "v", "type": "quantitative", "scale": {"domain": [5, 20], "reverse": true, "nice": false, "zero": false}, "axis": {"orient": "left", "values": [6, 7, 8, 9, 11, 12, 13, 14, 16, 17, 18, 19], "tickSize": -16, "tickWidth": 3, "domain": false, "labels": false, "title": null}}}},
{"data": {"values": [{"jd": 5000, "f": 5}]}, "mark": {"type": "point", "opacity": 0}, "encoding": {"x": {"field": "jd", "type": "quantitative", "scale": {"domain": [3000, 15300], "nice": false, "zero": false}, "axis": null}, "y": {"field": "f", "type": "quantitative", "scale": {"domain": [0, 10], "nice": false, "zero": false}, "axis": {"orient": "right", "values": [0, 2, 4, 6, 8, 10], "tickSize": -20, "tickWidth": 2, "domainWidth": 2, "labelFontSize": 48, "labelPadding": 56, "title": "F\u00a0UV1455\u00a0\u00a0(10\u00a0⁻¹²\u00a0\u00a0erg\u00a0\u00a0s\u00a0⁻¹\u00a0\u00a0cm\u00a0⁻²\u00a0\u00a0Å\u00a0⁻¹)", "titleFontSize": 41, "titleAngle": 90, "titleY": 424, "titlePadding": 12}}}},
{"data": {"values": [{"jd": 5000, "f": 5}]}, "mark": {"type": "point", "opacity": 0}, "encoding": {"x": {"field": "jd", "type": "quantitative", "scale": {"domain": [3000, 15300], "nice": false, "zero": false}, "axis": null}, "y": {"field": "f", "type": "quantitative", "scale": {"domain": [0, 10], "nice": false, "zero": false}, "axis": {"orient": "right", "values": [1, 3, 5, 7, 9], "tickSize": -10, "tickWidth": 2, "domain": false, "labels": false, "title": null}}}}
],
"resolve": {"scale": {"y": "independent"}, "axis": {"x": "independent", "y": "independent"}}
}
